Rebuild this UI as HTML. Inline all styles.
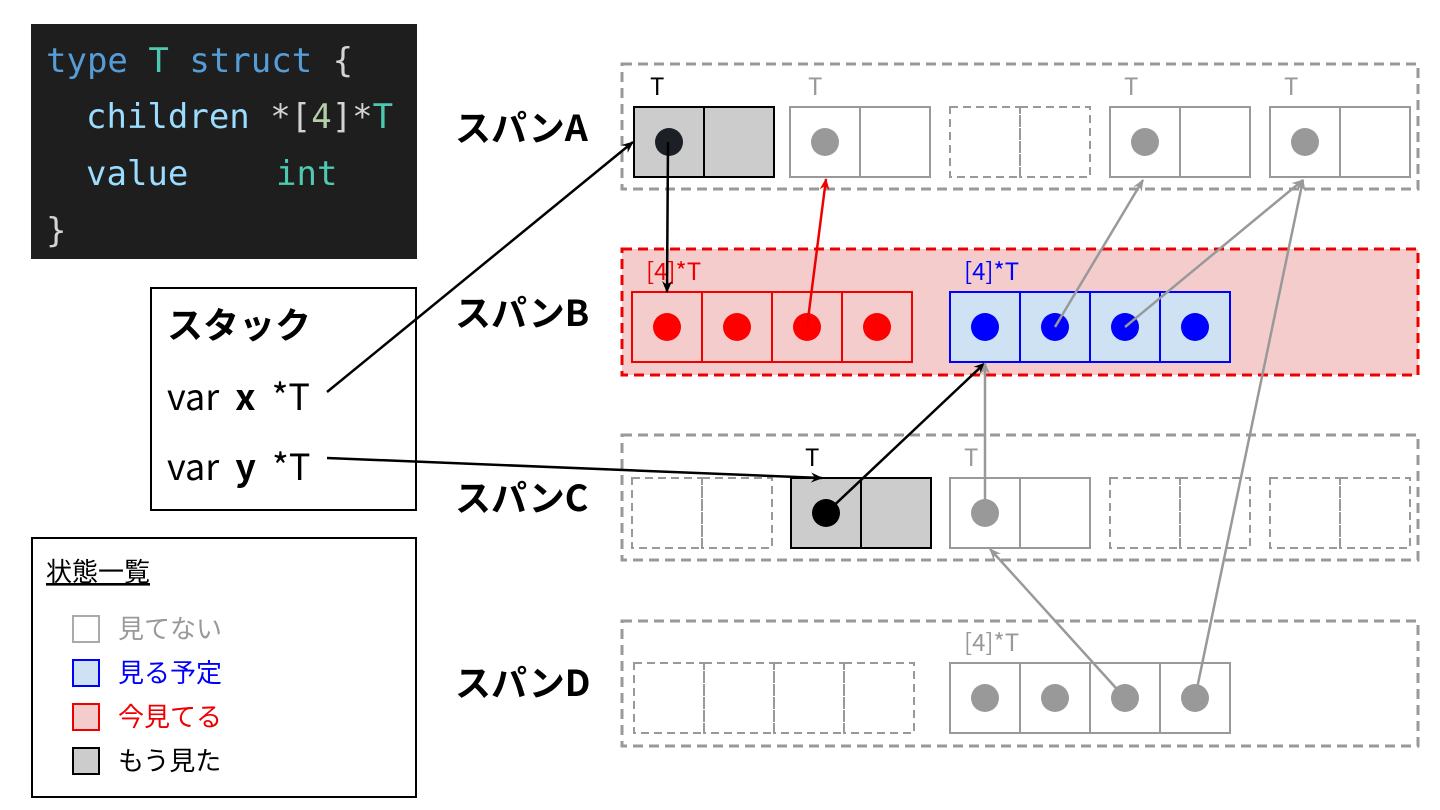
<!DOCTYPE html>
<html><head><meta charset="utf-8"><style>
body{margin:0;background:#fff;width:1440px;height:810px;overflow:hidden}
svg{display:block}
.jp{font-family:"Noto Sans CJK JP","DejaVu Sans",sans-serif}
.mono{font-family:"DejaVu Sans Mono","Liberation Mono",monospace}
</style></head><body>
<svg width="1440" height="810" xmlns="http://www.w3.org/2000/svg">
<defs>
<marker id="ab" markerWidth="12" markerHeight="10" refX="11" refY="5" orient="auto" markerUnits="userSpaceOnUse"><path d="M0,0 L12,5 L0,10 L4,5z" fill="#000"/></marker>
<marker id="ag" markerWidth="12" markerHeight="10" refX="11" refY="5" orient="auto" markerUnits="userSpaceOnUse"><path d="M0,0 L12,5 L0,10 L4,5z" fill="#999"/></marker>
<marker id="ar" markerWidth="12" markerHeight="10" refX="11" refY="5" orient="auto" markerUnits="userSpaceOnUse"><path d="M0,0 L12,5 L0,10 L4,5z" fill="#e00"/></marker>
</defs>
<rect x="31" y="24" width="386" height="235" fill="#1e1e1e"/>
<g class="mono" font-size="34">
<text x="46" y="72"><tspan fill="#569cd6">type</tspan> <tspan fill="#4ec9b0">T</tspan> <tspan fill="#569cd6">struct</tspan> <tspan fill="#d4d4d4">{</tspan></text>
<text x="86" y="128"><tspan fill="#9cdcfe">children</tspan> <tspan fill="#d4d4d4">*[</tspan><tspan fill="#b5cea8">4</tspan><tspan fill="#d4d4d4">]*</tspan><tspan fill="#4ec9b0">T</tspan></text>
<text x="86" y="185" fill="#9cdcfe">value</text><text x="276" y="185" fill="#4ec9b0">int</text>
<text x="46" y="242" fill="#d4d4d4">}</text>
</g>
<rect x="151" y="288" width="265" height="222" fill="#fff" stroke="#000" stroke-width="2"/>
<g class="jp" font-size="36">
<text x="167" y="338" font-weight="bold">スタック</text>
<text x="167" y="410" word-spacing="8">var <tspan font-weight="bold">x</tspan> *T</text>
<text x="167" y="480" word-spacing="8">var <tspan font-weight="bold">y</tspan> *T</text>
</g>
<rect x="32" y="538" width="384" height="259" fill="#fff" stroke="#000" stroke-width="2"/>
<g class="jp" font-size="26">
<text x="46" y="581" text-decoration="underline">状態一覧</text>
<rect x="73" y="616" width="26" height="26" fill="#fff" stroke="#aaa" stroke-width="2"/>
<text x="118" y="638" fill="#999">見てない</text>
<rect x="73" y="660" width="26" height="26" fill="#cfe2f3" stroke="#00f" stroke-width="2"/>
<text x="118" y="682" fill="#00f">見る予定</text>
<rect x="73" y="704" width="26" height="26" fill="#f4cccc" stroke="#e00" stroke-width="2"/>
<text x="118" y="726" fill="#e00">今見てる</text>
<rect x="73" y="748" width="26" height="26" fill="#ccc" stroke="#000" stroke-width="2"/>
<text x="118" y="770">もう見た</text>
</g>
<g class="jp" font-size="36" font-weight="bold">
<text x="455" y="141">スパンA</text>
<text x="455" y="326">スパンB</text>
<text x="455" y="511">スパンC</text>
<text x="455" y="696">スパンD</text>
</g>
<g fill="none" stroke="#999" stroke-width="3" stroke-dasharray="10,6">
<rect x="622" y="64" width="796" height="125"/>
<rect x="622" y="435" width="796" height="125"/>
<rect x="622" y="621" width="796" height="125"/>
</g>
<rect x="622" y="249" width="796" height="126" fill="#f4cccc" stroke="#e00" stroke-width="3" stroke-dasharray="10,6"/>
<g stroke-width="2">
<rect x="634" y="107" width="70" height="70" fill="#ccc" stroke="#000"/><rect x="704" y="107" width="70" height="70" fill="#ccc" stroke="#000"/>
<rect x="790" y="107" width="70" height="70" fill="#fff" stroke="#999"/><rect x="860" y="107" width="70" height="70" fill="#fff" stroke="#999"/>
<rect x="950" y="107" width="70" height="70" fill="none" stroke="#999" stroke-dasharray="8,5"/><rect x="1020" y="107" width="70" height="70" fill="none" stroke="#999" stroke-dasharray="8,5"/>
<rect x="1110" y="107" width="70" height="70" fill="#fff" stroke="#999"/><rect x="1180" y="107" width="70" height="70" fill="#fff" stroke="#999"/>
<rect x="1270" y="107" width="70" height="70" fill="#fff" stroke="#999"/><rect x="1340" y="107" width="70" height="70" fill="#fff" stroke="#999"/>
</g>
<circle cx="669" cy="142" r="14" fill="#1c1f26"/>
<circle cx="825" cy="142" r="14" fill="#999"/>
<circle cx="1145" cy="142" r="14" fill="#999"/>
<circle cx="1305" cy="142" r="14" fill="#999"/>
<g class="jp" font-size="24">
<text x="650" y="95">T</text>
<text x="808" y="95" fill="#999">T</text>
<text x="1124" y="95" fill="#999">T</text>
<text x="1284" y="95" fill="#999">T</text>
</g>
<g class="jp" font-size="24">
<text x="646" y="280" fill="#e00">[4]*T</text>
<text x="964" y="280" fill="#00f">[4]*T</text>
</g>
<g stroke-width="2">
<rect x="632" y="292" width="70" height="70" fill="#f4cccc" stroke="#e00"/><rect x="702" y="292" width="70" height="70" fill="#f4cccc" stroke="#e00"/><rect x="772" y="292" width="70" height="70" fill="#f4cccc" stroke="#e00"/><rect x="842" y="292" width="70" height="70" fill="#f4cccc" stroke="#e00"/>
<rect x="950" y="292" width="70" height="70" fill="#cfe2f3" stroke="#00f"/><rect x="1020" y="292" width="70" height="70" fill="#cfe2f3" stroke="#00f"/><rect x="1090" y="292" width="70" height="70" fill="#cfe2f3" stroke="#00f"/><rect x="1160" y="292" width="70" height="70" fill="#cfe2f3" stroke="#00f"/>
</g>
<g fill="#f00"><circle cx="667" cy="327" r="14"/><circle cx="737" cy="327" r="14"/><circle cx="807" cy="327" r="14"/><circle cx="877" cy="327" r="14"/></g>
<g fill="#00f"><circle cx="985" cy="327" r="14"/><circle cx="1055" cy="327" r="14"/><circle cx="1125" cy="327" r="14"/><circle cx="1195" cy="327" r="14"/></g>
<g stroke-width="2">
<rect x="632" y="478" width="70" height="70" fill="none" stroke="#999" stroke-dasharray="8,5"/><rect x="702" y="478" width="70" height="70" fill="none" stroke="#999" stroke-dasharray="8,5"/>
<rect x="791" y="478" width="70" height="70" fill="#ccc" stroke="#000"/><rect x="861" y="478" width="70" height="70" fill="#ccc" stroke="#000"/>
<rect x="950" y="478" width="70" height="70" fill="#fff" stroke="#999"/><rect x="1020" y="478" width="70" height="70" fill="#fff" stroke="#999"/>
<rect x="1110" y="478" width="70" height="70" fill="none" stroke="#999" stroke-dasharray="8,5"/><rect x="1180" y="478" width="70" height="70" fill="none" stroke="#999" stroke-dasharray="8,5"/>
<rect x="1270" y="478" width="70" height="70" fill="none" stroke="#999" stroke-dasharray="8,5"/><rect x="1340" y="478" width="70" height="70" fill="none" stroke="#999" stroke-dasharray="8,5"/>
</g>
<circle cx="826" cy="513" r="14" fill="#000"/>
<circle cx="985" cy="513" r="14" fill="#999"/>
<g class="jp" font-size="24">
<text x="805" y="466">T</text>
<text x="964" y="466" fill="#999">T</text>
</g>
<text class="jp" font-size="24" x="964" y="651" fill="#999">[4]*T</text>
<g stroke-width="2">
<rect x="634" y="663" width="70" height="70" fill="none" stroke="#999" stroke-dasharray="8,5"/><rect x="704" y="663" width="70" height="70" fill="none" stroke="#999" stroke-dasharray="8,5"/><rect x="774" y="663" width="70" height="70" fill="none" stroke="#999" stroke-dasharray="8,5"/><rect x="844" y="663" width="70" height="70" fill="none" stroke="#999" stroke-dasharray="8,5"/>
<rect x="950" y="663" width="70" height="70" fill="#fff" stroke="#999"/><rect x="1020" y="663" width="70" height="70" fill="#fff" stroke="#999"/><rect x="1090" y="663" width="70" height="70" fill="#fff" stroke="#999"/><rect x="1160" y="663" width="70" height="70" fill="#fff" stroke="#999"/>
</g>
<g fill="#999"><circle cx="985" cy="698" r="14"/><circle cx="1055" cy="698" r="14"/><circle cx="1125" cy="698" r="14"/><circle cx="1195" cy="698" r="14"/></g>
<g fill="none" stroke-width="2.5">
<line x1="327" y1="392" x2="633" y2="142" stroke="#000" marker-end="url(#ab)"/>
<line x1="327" y1="458" x2="822" y2="478" stroke="#000" marker-end="url(#ab)"/>
<line x1="668" y1="142" x2="667" y2="292" stroke="#000" marker-end="url(#ab)"/>
<line x1="807" y1="327" x2="826" y2="179" stroke="#e00" marker-end="url(#ar)"/>
<line x1="1055" y1="327" x2="1143" y2="180" stroke="#999" marker-end="url(#ag)"/>
<line x1="1125" y1="327" x2="1303" y2="180" stroke="#999" marker-end="url(#ag)"/>
<line x1="826" y1="513" x2="985" y2="363" stroke="#000" marker-end="url(#ab)"/>
<line x1="985" y1="513" x2="985" y2="363" stroke="#999" marker-end="url(#ag)"/>
<line x1="1125" y1="698" x2="990" y2="549" stroke="#999" marker-end="url(#ag)"/>
<line x1="1195" y1="698" x2="1303" y2="180" stroke="#999" marker-end="url(#ag)"/>
</g>
</svg>
</body></html>
